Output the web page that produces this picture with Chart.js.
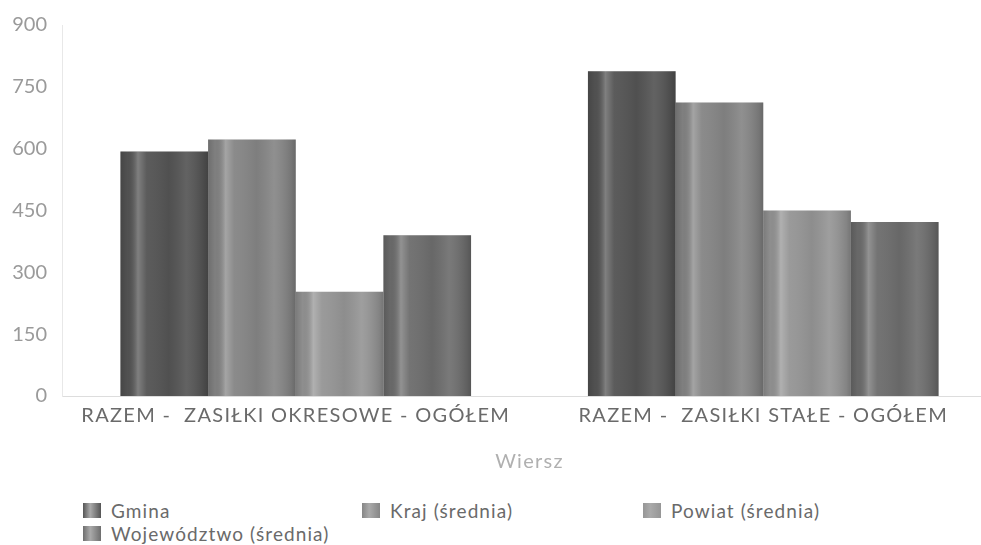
<!DOCTYPE html>
<html>
<head>
<meta charset="utf-8">
<script src="https://cdn.jsdelivr.net/npm/chart.js@4/dist/chart.umd.min.js"></script>
<style>
  html, body { margin: 0; padding: 0; background: #fff; overflow: hidden; }
  body { width: 981px; height: 545px; position: relative; font-family: Lato, sans-serif; }
  #wrap { position: absolute; left: 0; top: 0; width: 1000px; height: 478px; }
  #legend { position: absolute; left: 83px; top: 499px; width: 890px; display: grid;
            grid-template-columns: 279px 281px 281px; font-size: 19px; font-weight: 400;
            letter-spacing: 1.1px; color: #6a6a6a; }
  #legend div { display: flex; align-items: center; height: 23px; white-space: nowrap; }
  #legend span.box { display: inline-block; width: 18px; height: 15px; margin-right: 10px; }
</style>
</head>
<body>
<div id="wrap"><canvas id="chart"></canvas></div>
<div id="legend"></div>
<script>
// Categories and series
const categories = ['RAZEM -  ZASIŁKI OKRESOWE - OGÓŁEM', 'RAZEM -  ZASIŁKI STAŁE - OGÓŁEM'];
const seriesNames = ['Gmina', 'Kraj (średnia)', 'Powiat (średnia)', 'Województwo (średnia)'];
const gmina = [593, 788];
const kraj = [622, 712];
const powiat = [253, 450];
const wojewodztwo = [390, 422];
const yTicks = [0, 150, 300, 450, 600, 750, 900];

const colors = ['#555555', '#868686', '#969696', '#6e6e6e'];

// Shade a bar like a cylinder (left-to-right gradient over the element)
function shade(ctx, x0, x1) {
    const g = ctx.createLinearGradient(x0, 0, x1, 0);
    g.addColorStop(0, 'rgba(0,0,0,0.18)');
    g.addColorStop(0.08, 'rgba(0,0,0,0.05)');
    g.addColorStop(0.2, 'rgba(255,255,255,0.25)');
    g.addColorStop(0.3, 'rgba(255,255,255,0.04)');
    g.addColorStop(0.55, 'rgba(0,0,0,0.06)');
    g.addColorStop(0.75, 'rgba(255,255,255,0.08)');
    g.addColorStop(0.95, 'rgba(0,0,0,0.12)');
    g.addColorStop(1, 'rgba(0,0,0,0.22)');
    return g;
}

const cylinderPlugin = {
    id: 'cylinder',
    beforeDraw(chart) {
        chart.ctx.letterSpacing = '1.3px'; // wide-set labels like the original
    },
    afterDatasetsDraw(chart) {
        const ctx = chart.ctx;
        chart.data.datasets.forEach((ds, i) => {
            chart.getDatasetMeta(i).data.forEach(bar => {
                const x0 = bar.x - bar.width / 2;
                const x1 = bar.x + bar.width / 2;
                ctx.save();
                ctx.fillStyle = shade(ctx, x0, x1);
                ctx.fillRect(x0, bar.y, bar.width, bar.base - bar.y);
                ctx.restore();
            });
        });
    }
};

const datasets = [gmina, kraj, powiat, wojewodztwo].map((vals, i) => ({
    label: seriesNames[i],
    data: vals,
    backgroundColor: colors[i],
    borderWidth: 0
}));

const chart = new Chart(document.getElementById('chart'), {
    type: 'bar',
    data: { labels: categories, datasets: datasets },
    plugins: [cylinderPlugin],
    options: {
        responsive: true,
        maintainAspectRatio: false,
        animation: false,
        categoryPercentage: 0.75,
        barPercentage: 1,
        layout: { padding: { top: 25, right: 3, left: 0, bottom: 0 } },
        plugins: { legend: { display: false }, tooltip: { enabled: false } },
        scales: {
            x: {
                grid: { display: false },
                border: { color: '#dddddd', width: 1 },
                ticks: { color: '#6a6a6a', font: { family: 'Lato', size: 20 }, padding: 0, maxRotation: 0 },
                title: { display: true, text: 'Wiersz', color: '#b0b0b0', font: { family: 'Lato', size: 20 }, padding: { top: 22, bottom: 4 } }
            },
            y: {
                min: 0, max: 900,
                afterBuildTicks: s => { s.ticks = yTicks.map(v => ({ value: v })); },
                afterFit: s => { s.width = 62; },
                grid: { display: false },
                border: { color: '#e8e8e8', width: 1 },
                ticks: { color: '#9a9a9a', font: { family: 'Lato', size: 20 }, padding: 7 }
            }
        }
    }
});

// y tick numbers are not letter-spaced
const yScale = chart.scales.y;
const drawYLabels = yScale.drawLabels.bind(yScale);
yScale.drawLabels = function (area) {
    const ctx = this.ctx;
    const prev = ctx.letterSpacing;
    ctx.letterSpacing = '0px';
    drawYLabels(area);
    ctx.letterSpacing = prev;
};
chart.draw();

// HTML legend laid out in three columns
const legend = document.getElementById('legend');
seriesNames.forEach((name, i) => {
    const item = document.createElement('div');
    const box = document.createElement('span');
    box.className = 'box';
    box.style.background = `linear-gradient(to right, ${colors[i]}, #aaa 40%, ${colors[i]})`;
    item.appendChild(box);
    item.appendChild(document.createTextNode(name));
    legend.appendChild(item);
});
</script>
</body>
</html>
